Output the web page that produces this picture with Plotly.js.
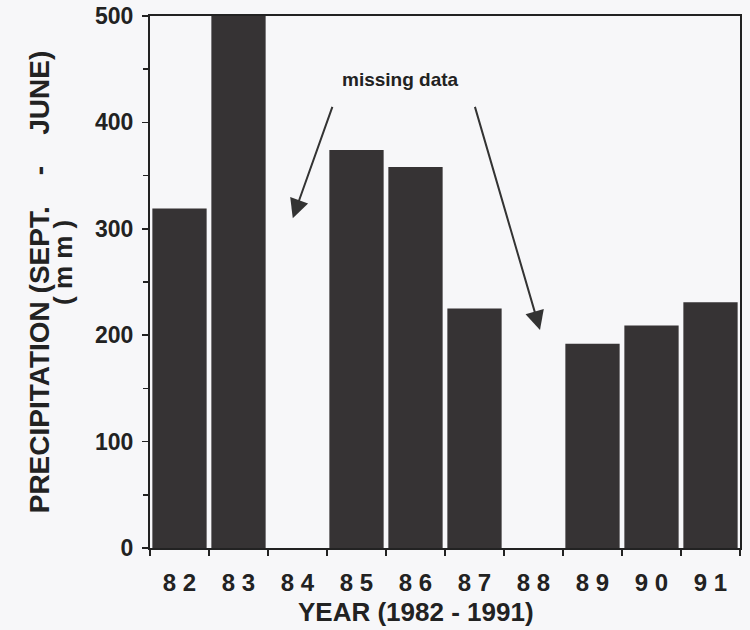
<!DOCTYPE html>
<html>
<head>
<meta charset="utf-8">
<script src="https://cdn.plot.ly/plotly-3.0.1.min.js"></script>
<style>html,body{margin:0;padding:0;background:#f7f7f9;}</style>
</head>
<body>
<div id="chart" style="width:750px;height:630px;"></div>
<script>
const years = ["82","83","84","85","86","87","88","89","90","91"];
const tickLabels = ["8 2","8 3","8 4","8 5","8 6","8 7","8 8","8 9","9 0","9 1"];
const precipitation = [319, 500, null, 374, 358, 225, null, 192, 209, 231];
const missingNote = "missing data";
const xTitle = "YEAR (1982 - 1991)";
const yTitle = "PRECIPITATION (SEPT.&nbsp;&nbsp;&nbsp;&nbsp;-&nbsp;&nbsp;&nbsp;&nbsp;JUNE)";
const yUnit = "(&nbsp;m&nbsp;m&nbsp;)";

const fam = "Liberation Sans, Arial, sans-serif";
const ink = "#222";

const trace = {
  type: "bar",
  x: years,
  y: precipitation,
  marker: {color: "#363334", line: {width: 0}},
  hoverinfo: "x+y"
};

const layout = {
  width: 750, height: 630,
  paper_bgcolor: "#f7f7f9",
  plot_bgcolor: "#f7f7f9",
  margin: {l: 150, r: 10, t: 16, b: 82},
  showlegend: false,
  bargap: 0.08,
  font: {family: fam, color: ink},
  xaxis: {
    type: "category",
    tickvals: years,
    ticktext: tickLabels,
    tickson: "boundaries",
    ticks: "outside", ticklen: 6, tickwidth: 1.5, tickcolor: ink,
    showline: true, linecolor: ink, linewidth: 2, mirror: true,
    showgrid: false, zeroline: false,
    tickfont: {family: fam, size: 24, color: ink, weight: "bold"},
    ticklabelstandoff: 12
  },
  yaxis: {
    range: [0, 500],
    dtick: 100,
    ticks: "outside", ticklen: 6, tickwidth: 1.5, tickcolor: ink,
    minor: {dtick: 50, ticks: "outside", ticklen: 5, tickcolor: ink},
    showline: true, linecolor: ink, linewidth: 2, mirror: true,
    showgrid: false, zeroline: false,
    tickfont: {family: fam, size: 23, color: ink, weight: "bold"},
    ticklabelstandoff: 4,
    title: {text: "<b>" + yTitle + "</b>", font: {family: fam, size: 28, color: ink}, standoff: 37}
  },
  annotations: [
    {x: -0.1475, y: 0.5376, xref: "paper", yref: "paper", xanchor: "center", yanchor: "middle",
     textangle: -90, text: "<b>" + yUnit + "</b>", showarrow: false, font: {family: fam, size: 26, color: ink}},
    {x: 0.451, y: 0, xref: "paper", yref: "paper", yshift: -64, xanchor: "center", yanchor: "middle",
     text: "<b>" + xTitle + "</b>", showarrow: false, font: {family: fam, size: 26, color: ink}},
    {x: 3.74, y: 440, xref: "x", yref: "y", text: "<b>" + missingNote + "</b>", showarrow: false,
     font: {family: fam, size: 19, color: ink}},
    {x: 1.92, y: 310, xref: "x", yref: "y", ax: 2.6, ay: 416, axref: "x", ayref: "y",
     text: "", showarrow: true, arrowhead: 2, arrowsize: 1.9, arrowwidth: 2, arrowcolor: "#333"},
    {x: 6.11, y: 205, xref: "x", yref: "y", ax: 5.0, ay: 416, axref: "x", ayref: "y",
     text: "", showarrow: true, arrowhead: 2, arrowsize: 1.9, arrowwidth: 2, arrowcolor: "#333"}
  ]
};

Plotly.newPlot("chart", [trace], layout, {displayModeBar: false, staticPlot: true});
</script>
</body>
</html>
